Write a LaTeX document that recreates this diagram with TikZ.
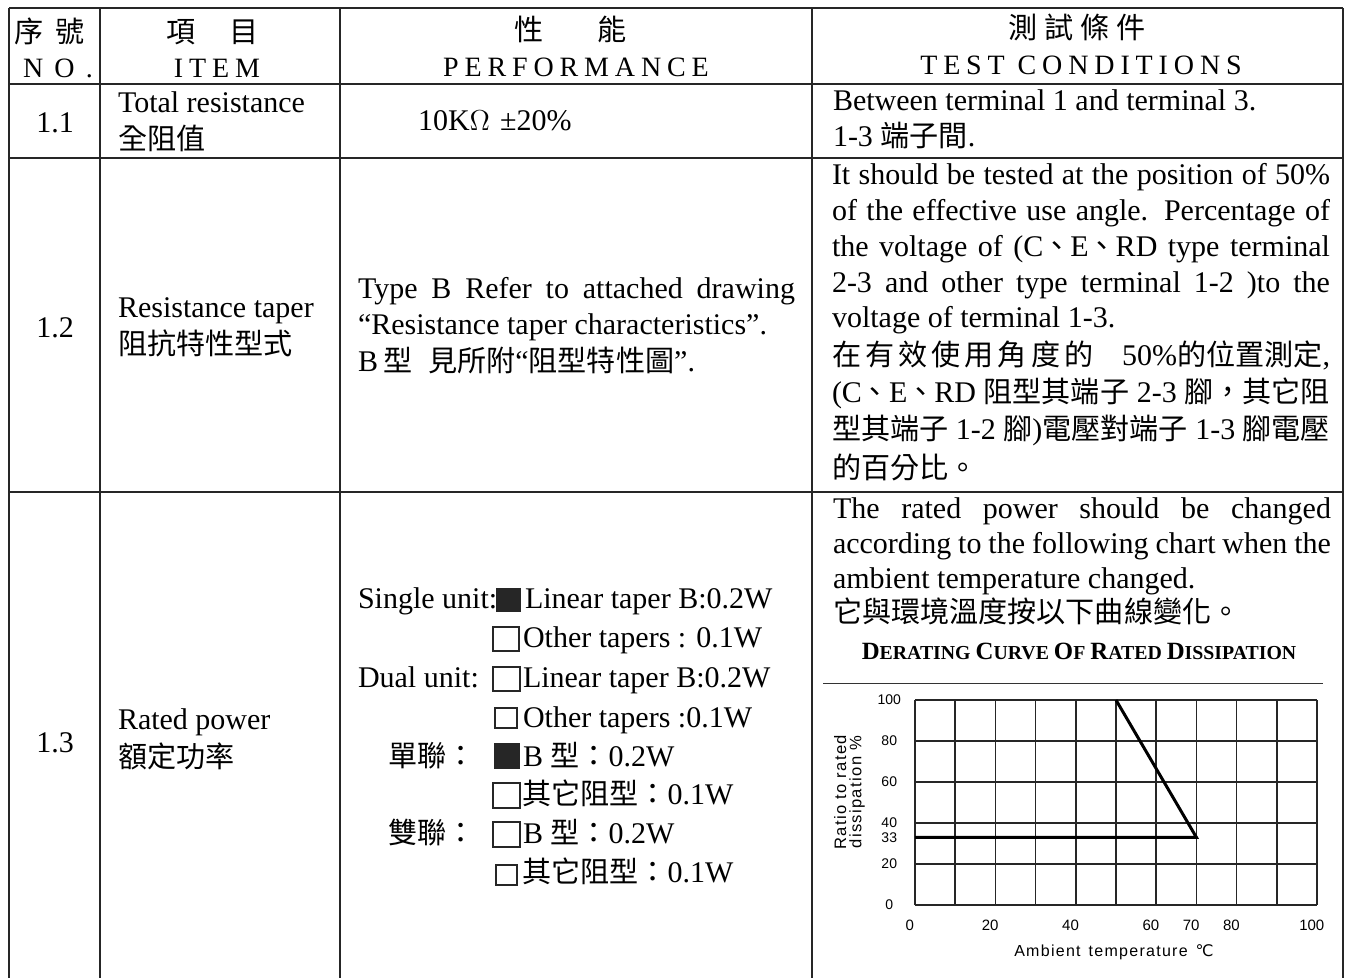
\documentclass[tikz,border=0pt]{standalone}
\usepackage{fontspec}
\setmainfont{Liberation Serif}
\newfontfamily\cjk{Noto Sans CJK TC}[Scale=0.97]
\newfontfamily\chartfont{Liberation Sans}
\newfontfamily\chartwide{Liberation Sans}[LetterSpace=8]
\newfontfamily\degfont{DejaVu Sans}
\newfontfamily\hdr{Liberation Serif}[LetterSpace=21]
\newfontfamily\hdrwide{Liberation Serif}[LetterSpace=40]
\newcommand\zh[1]{{\cjk #1}}
\newcommand\dun{\makebox[0.9em][c]{\cjk 、}}
\newcommand\jl[1]{\hbox to 249pt{#1}}
\newcommand\sct[2]{{\fontsize{12.4pt}{13pt}\selectfont #1}{\fontsize{9.9pt}{10pt}\selectfont #2}}
\tikzset{
  every node/.style={inner sep=0pt, outer sep=0pt},
  tx/.style={anchor=base west, font=\fontsize{15pt}{18pt}\selectfont},
  tc/.style={anchor=base, font=\fontsize{15pt}{18pt}\selectfont},
  hd/.style={anchor=base, font=\hdr\fontsize{14pt}{16pt}\selectfont},
  tab/.style={line width=1pt, black!85},
  bx/.style={line width=0.8pt, black!85},
  fbx/.style={fill=black!85},
  gridl/.style={line width=0.8pt, black!85},
  curve/.style={line width=1.5pt, black},
  xl/.style={anchor=center, font=\chartfont\fontsize{7.5pt}{8pt}\selectfont},
  yl/.style={anchor=center, font=\chartfont\fontsize{7pt}{8pt}\selectfont},
  ytitle/.style={rotate=90, anchor=center, font=\chartwide\fontsize{8.3pt}{9pt}\selectfont},
}
\begin{document}
\begin{tikzpicture}[x=0.5pt, y=-0.5pt]
\useasboundingbox (0,0) rectangle (1351,978);
\fill[white] (0,0) rectangle (1351,978);

% table rules
\draw[tab] (9,8) -- (1343,8);
\draw[tab] (9,8) -- (9,978);
\draw[tab] (100,8) -- (100,978);
\draw[tab] (340,8) -- (340,978);
\draw[tab] (812,8) -- (812,978);
\draw[tab] (1343,8) -- (1343,978);
\draw[tab] (9,84) -- (1343,84);
\draw[tab] (9,158) -- (1343,158);
\draw[tab] (9,492) -- (1343,492);

% header
\node[tc] (h1a) at (50,43) {\zh{序\hspace{6pt}號}};
\node[anchor=base, font=\hdrwide\fontsize{14pt}{16pt}\selectfont] (h1b) at (58,78) {NO.};
\node[tc] (h2a) at (213,43) {\zh{項\hspace{17pt}目}};
\node[hd] (h2b) at (217,78) {ITEM};
\node[tc] (h3a) at (571,41) {\zh{性\hspace{27pt}能}};
\node[hd] (h3b) at (576,77) {PERFORMANCE};
\node[tc] (h4a) at (1077,39) {\zh{測\hspace{3.5pt}試\hspace{3.5pt}條\hspace{3.5pt}件}};
\node[hd] (h4b) at (1081,75) {TEST CONDITIONS};

% row 1.1
\node[tc] (n11) at (55,133) {1.1};
\node[tx] (i11a) at (118,113) {Total resistance};
\node[tx] (i11b) at (118,150) {\zh{全阻值}};
\node[tx] (p11) at (418,131) {10K$\Omega$\hspace{5pt}±20\%};
\node[tx] (c11a) at (833,111) {Between terminal 1 and terminal 3.};
\node[tx] (c11b) at (833,147) {1-3 \zh{端子間}.};

% row 1.2
\node[tc] (n12) at (55,338) {1.2};
\node[tx] (i12a) at (118,318) {Resistance taper};
\node[tx] (i12b) at (118,355) {\zh{阻抗特性型式}};
\node[tx] (p12a) at (358,299) {\hbox to 218.5pt{Type B Refer to attached drawing}};
\node[tx] (p12b) at (358,335) {“Resistance taper characteristics”.};
\node[tx] (p12c) at (358,372) {B\,\zh{型}\hspace{8pt}\zh{見所附}“\zh{阻型特性圖}”.};
\node[tx] (c12a) at (832,185) {\jl{It should be tested at the position of 50\%}};
\node[tx] (c12b) at (832,221) {\jl{of the effective use angle. Percentage of}};
\node[tx] (c12c) at (832,257) {\jl{the voltage of (C\dun E\dun RD type terminal}};
\node[tx] (c12d) at (832,293) {\jl{2-3 and other type terminal 1-2 )to the}};
\node[tx] (c12e) at (832,328) {voltage of terminal 1-3.};
\node[tx] (c12f) at (832,366) {\jl{{\cjk\addfontfeature{LetterSpace=14}在有效使用角度的} 50\%\zh{的位置測定},}};
\node[tx] (c12g) at (832,403) {\jl{(C\dun E\dun RD \zh{阻型其端子} 2-3 \zh{腳，其它阻}}};
\node[tx] (c12h) at (832,440) {\jl{\zh{型其端子} 1-2 \zh{腳})\zh{電壓對端子} 1-3 \zh{腳電壓}}};
\node[tx] (c12i) at (832,479) {\zh{的百分比。}};

% row 1.3
\node[tc] (n13) at (55,753) {1.3};
\node[tx] (i13a) at (118,730) {Rated power};
\node[tx] (i13b) at (118,768) {\zh{額定功率}};

\node[tx] (p1a) at (358,609) {Single unit:};
\fill[fbx] (496,588) rectangle (521,612);
\node[tx] (p1b) at (525,609) {Linear taper B:0.2W};
\draw[bx] (493,627) rectangle (519,651);
\node[tx] (p2) at (523,648) {Other tapers : 0.1W};
\node[tx] (p3a) at (358,688) {Dual unit:};
\draw[bx] (493,667) rectangle (520,691);
\node[tx] (p3b) at (523,688) {Linear taper B:0.2W};
\draw[bx] (495,708) rectangle (517,728);
\node[tx] (p4) at (523,727) {Other tapers :0.1W};
\node[tx] (p5a) at (388,767) {\zh{單聯：}};
\fill[fbx] (494,743) rectangle (520,769);
\node[tx] (p5b) at (523,767) {B \zh{型：}0.2W};
\draw[bx] (493,783) rectangle (520,808);
\node[tx] (p6) at (522,805) {\zh{其它阻型：}0.1W};
\node[tx] (p7a) at (388,843) {\zh{雙聯：}};
\draw[bx] (493,822) rectangle (520,847);
\node[tx] (p7b) at (523,843) {B \zh{型：}0.2W};
\draw[bx] (496,865) rectangle (517,885);
\node[tx] (p8) at (522,882) {\zh{其它阻型：}0.1W};

\node[tx] (c13a) at (833,519) {\jl{The rated power should be changed}};
\node[tx] (c13b) at (833,554) {\jl{according to the following chart when the}};
\node[tx] (c13c) at (833,589) {ambient temperature changed.};
\node[tx] (c13d) at (833,623) {\zh{它與環境溫度按以下曲線變化。}};

% chart
\node[anchor=base, font=\bfseries] (ctitle) at (1079,660) {\sct{D}{ERATING} \sct{C}{URVE} \sct{O}{F} \sct{R}{ATED} \sct{D}{ISSIPATION}};
\draw[line width=0.5pt, black!80] (823,684) -- (1323,684);
\begin{scope}[shift={(915,905)}, x=2.01pt, y=1.025pt]
  \foreach \i in {0,10,...,100} \draw[gridl] (\i,0) -- (\i,100);
  \foreach \j in {0,20,...,100} \draw[gridl] (0,\j) -- (100,\j);
  \draw[curve] (0,33) -- (70,33) -- (50,100);
  \foreach \v in {0,20,40,60,70,80,100} \node[xl] (xl\v) at (\v-1.3,-10) {\v};
  \foreach \v in {0,20,33,40,60,80,100} \node[yl] (yl\v) at (-6.4,\v) {\v};
  \node[ytitle] (yt1) at (-18.6,55) {Ratio to rated};
  \node[ytitle] (yt2) at (-14.4,55) {dissipation \%};
  \node[anchor=center, font=\chartwide\fontsize{8pt}{9pt}\selectfont] (xt) at (49.5,-23) {Ambient\hspace{4pt}temperature\hspace{4pt}{\degfont ℃}};
\end{scope}
\end{tikzpicture}
\end{document}
